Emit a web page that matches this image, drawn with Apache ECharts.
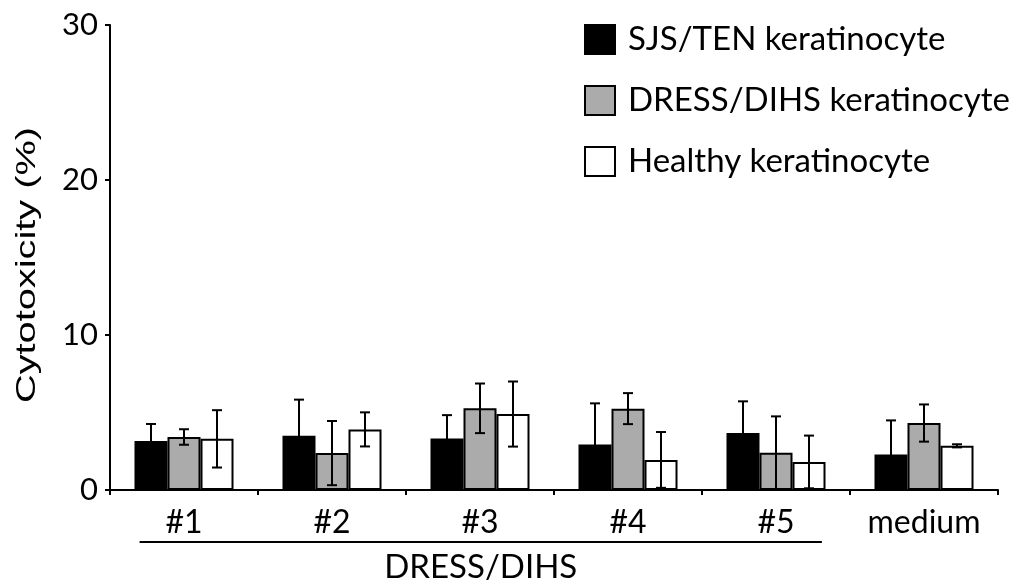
<!DOCTYPE html>
<html><head><meta charset="utf-8">
<script src="https://cdn.jsdelivr.net/npm/echarts@6/dist/echarts.min.js"></script>
<style>html,body{margin:0;padding:0;background:#fff}#c{width:1024px;height:585px}</style>
</head><body><div id="c"></div>
<script>
const categories = ['#1', '#2', '#3', '#4', '#5', 'medium'];
const seriesNames = ['SJS/TEN keratinocyte', 'DRESS/DIHS keratinocyte', 'Healthy keratinocyte'];
const sjsValues = [3.16, 3.5, 3.33, 2.94, 3.67, 2.29];
const sjsErrors = [1.1, 2.33, 1.5, 2.65, 2.05, 2.2];
const dressValues = [3.42, 2.38, 5.27, 5.25, 2.4, 4.32];
const dressErrors = [0.5, 2.07, 1.6, 1.0, 2.35, 1.2];
const healthyValues = [3.3, 3.91, 4.9, 1.94, 1.81, 2.85];
const healthyErrors = [1.85, 1.1, 2.1, 1.8, 1.7, 0.1];
const yMin = 0, yMax = 30, yStep = 10;
const groupLabel = 'DRESS/DIHS';
const groupedCategories = ['#1', '#5'];
const yName = 'Cytotoxicity (%)';

const BAR_FRAC = 0.223;
const fills = ['#000000', '#ababab', '#ffffff'];
const valueSets = [sjsValues, dressValues, healthyValues];
const errorSets = [sjsErrors, dressErrors, healthyErrors];

const chart = echarts.init(document.getElementById('c'), null, {renderer: 'canvas'});

function errorSeries(vals, errs, k) {
  return {
    type: 'custom',
    z: 10,
    silent: true,
    encode: {x: 0, y: [1, 2]},
    data: vals.map((v, i) => [i, v - errs[i], v + errs[i]]),
    renderItem: function (params, api) {
      const i = api.value(0);
      const lo = api.coord([i, api.value(1)]);
      const hi = api.coord([i, api.value(2)]);
      const band = api.size([1, 0])[0];
      const x = lo[0] + (k - 1) * band * BAR_FRAC;
      const cap = 5;
      const style = {stroke: '#000', lineWidth: 2};
      return {type: 'group', children: [
        {type: 'line', shape: {x1: x, y1: lo[1], x2: x, y2: hi[1]}, style: style},
        {type: 'line', shape: {x1: x - cap, y1: hi[1], x2: x + cap, y2: hi[1]}, style: style},
        {type: 'line', shape: {x1: x - cap, y1: lo[1], x2: x + cap, y2: lo[1]}, style: style}
      ]};
    }
  };
}

const series = [];
seriesNames.forEach((name, k) => {
  series.push({
    name: name,
    type: 'bar',
    data: valueSets[k],
    barWidth: (BAR_FRAC * 100) + '%',
    barGap: '0%',
    itemStyle: {color: fills[k], borderColor: '#000', borderWidth: 2},
    emphasis: {disabled: true}
  });
});
seriesNames.forEach((name, k) => series.push(errorSeries(valueSets[k], errorSets[k], k)));

chart.setOption({
  animation: false,
  backgroundColor: '#fff',
  grid: {left: 110, right: 26, top: 25, bottom: 95},
  legend: {
    data: seriesNames,
    orient: 'vertical',
    left: 579, top: 18,
    itemWidth: 30, itemHeight: 29, itemGap: 28,
    icon: 'rect',
    textStyle: {fontFamily: 'Lato', fontSize: 33, color: '#000', padding: [0, 0, 0, 8]}
  },
  xAxis: {
    type: 'category',
    data: categories,
    axisLine: {lineStyle: {color: '#000', width: 2}},
    axisTick: {show: true, length: 5, lineStyle: {color: '#000', width: 2}},
    axisLabel: {fontFamily: 'Lato', fontSize: 32, color: '#000', margin: 17}
  },
  yAxis: {
    type: 'value',
    min: yMin, max: yMax, interval: yStep,
    axisLine: {show: true, lineStyle: {color: '#000', width: 2}},
    axisTick: {show: true, length: 5, lineStyle: {color: '#000', width: 2}},
    splitLine: {show: false},
    axisLabel: {fontFamily: 'Lato', fontSize: 31, color: '#000', margin: 12}
  },
  series: series
});

const pA = chart.convertToPixel({xAxisIndex: 0}, groupedCategories[0]);
const pB = chart.convertToPixel({xAxisIndex: 0}, groupedCategories[1]);
const band = chart.convertToPixel({xAxisIndex: 0}, categories[1]) - chart.convertToPixel({xAxisIndex: 0}, categories[0]);
const x1 = pA - 0.3 * band, x2 = pB + 0.31 * band;
chart.setOption({
  graphic: [
    {type: 'line', shape: {x1: x1, y1: 542, x2: x2, y2: 542}, style: {stroke: '#000', lineWidth: 2}},
    {type: 'text', x: (x1 + x2) / 2, y: 567, style: {text: groupLabel, fontFamily: 'Lato', fontSize: 33, fill: '#000', align: 'center', verticalAlign: 'middle'}},
    {type: 'text', x: 27, y: 265, rotation: Math.PI / 2, scaleX: 1.42, scaleY: 1,
     style: {text: yName, fontFamily: 'Liberation Sans', fontSize: 28, fill: '#000', align: 'center', verticalAlign: 'middle'}}
  ]
});
</script></body></html>
